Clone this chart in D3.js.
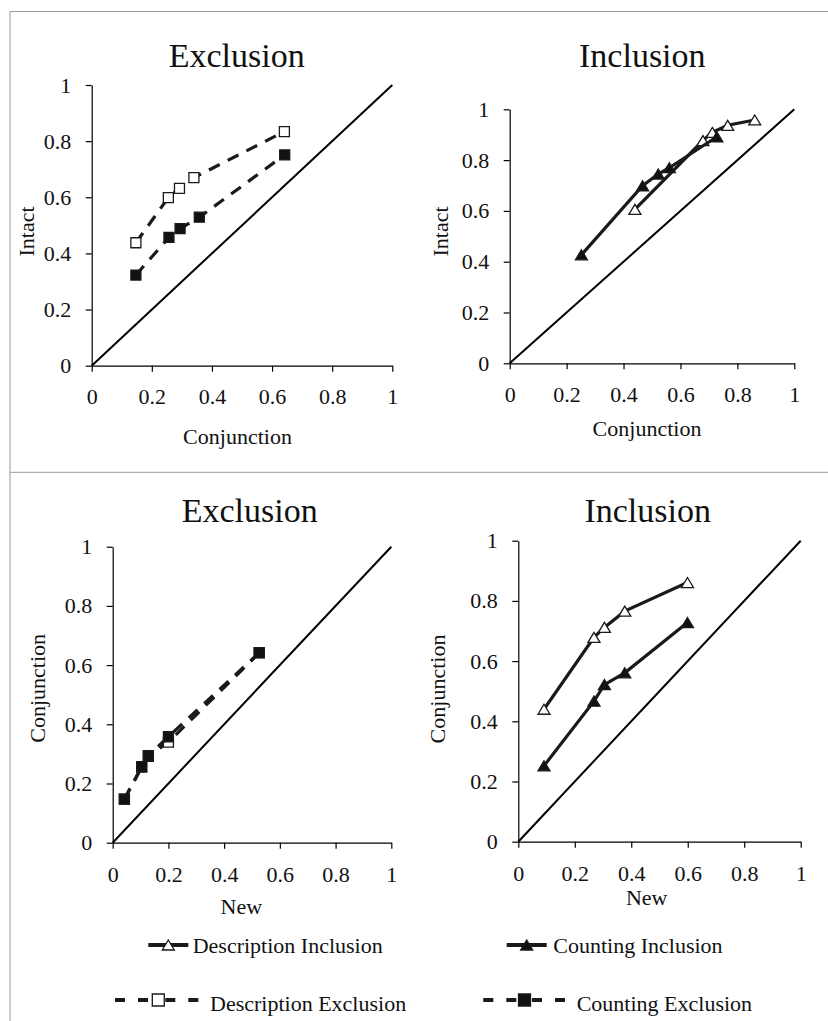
<!DOCTYPE html>
<html><head><meta charset="utf-8">
<script src="https://cdnjs.cloudflare.com/ajax/libs/d3/7.8.5/d3.min.js"></script>
<style>
body{margin:0;background:#fff;}
svg{display:block;}
text{font-family:"Liberation Serif","Times New Roman",serif;fill:#111;}
</style></head><body>
<svg id="chart" width="828" height="1021"></svg>
<script>
// ---------------- data ----------------
const tickValues = [0, 0.2, 0.4, 0.6, 0.8, 1];
const diagonal = [0, 1];
const seriesNames = ["Description Inclusion", "Counting Inclusion", "Description Exclusion", "Counting Exclusion"];

const descIncNew    = [0.091, 0.268, 0.305, 0.377, 0.599];
const descIncConj   = [0.440, 0.679, 0.712, 0.766, 0.861];
const descIncIntact = [0.606, 0.877, 0.909, 0.937, 0.958];

const cntIncNew     = [0.091, 0.268, 0.305, 0.377, 0.599];
const cntIncConj    = [0.252, 0.467, 0.522, 0.561, 0.728];
const cntIncIntact  = [0.427, 0.699, 0.745, 0.770, 0.892];

const descExcNew    = [0.042, 0.104, 0.128, 0.200, 0.526];
const descExcConj   = [0.147, 0.255, 0.292, 0.340, 0.641];
const descExcIntact = [0.438, 0.599, 0.632, 0.670, 0.834];

const cntExcNew     = [0.042, 0.104, 0.128, 0.200, 0.526];
const cntExcConj    = [0.147, 0.257, 0.294, 0.358, 0.642];
const cntExcIntact  = [0.323, 0.457, 0.488, 0.529, 0.751];

// ---------------- styles ----------------
const styles = {
  "Description Inclusion": {dash: null, marker: "triangle", fill: "#fff"},
  "Counting Inclusion":    {dash: null, marker: "triangle", fill: "#111"},
  "Description Exclusion": {dash: "12,9", marker: "square", fill: "#fff"},
  "Counting Exclusion":    {dash: "12,9", marker: "square", fill: "#111"}
};
const ink = "#1a1a1a";
const font = '"Liberation Serif","Times New Roman",serif';

// ---------------- layout ----------------
const panels = [
  {title: "Exclusion", xLabel: "Conjunction", yLabel: "Intact",
   box: {l: 91.7, r: 392.3, t: 85, b: 365.7},
   titlePos: [236.7, 66.7], xLabPos: [237.5, 444], yLabPos: [33.5, 231.5], xPad: 17,
   series: [["Description Exclusion", descExcConj, descExcIntact], ["Counting Exclusion", cntExcConj, cntExcIntact]]},
  {title: "Inclusion", xLabel: "Conjunction", yLabel: "Intact",
   box: {l: 509.7, r: 794.3, t: 109.3, b: 363.3},
   titlePos: [642.3, 66.7], xLabPos: [647, 436], yLabPos: [448, 231.5], xPad: 17,
   series: [["Description Inclusion", descIncConj, descIncIntact], ["Counting Inclusion", cntIncConj, cntIncIntact]]},
  {title: "Exclusion", xLabel: "New", yLabel: "Conjunction",
   box: {l: 112.7, r: 391.3, t: 546.7, b: 842.7},
   titlePos: [249.7, 521.7], xLabPos: [241.3, 914], yLabPos: [45, 688.3], xPad: 18,
   series: [["Description Exclusion", descExcNew, descExcConj], ["Counting Exclusion", cntExcNew, cntExcConj]]},
  {title: "Inclusion", xLabel: "New", yLabel: "Conjunction",
   box: {l: 518.3, r: 800.7, t: 540.7, b: 841.7},
   titlePos: [647.7, 521.7], xLabPos: [646.7, 905], yLabPos: [445, 689], xPad: 18,
   series: [["Description Inclusion", descIncNew, descIncConj], ["Counting Inclusion", cntIncNew, cntIncConj]]}
];

const legendLayout = [
  {x1: 148.3, x2: 188.3, mx: 168.3, tx: 192.7, y: 945, ty: 953.3},
  {x1: 506.7, x2: 546.7, mx: 526.7, tx: 553.3, y: 945, ty: 953.3},
  {x1: 115,   x2: 198.3, mx: 158.3, tx: 210,   y: 1000, ty: 1010.5},
  {x1: 483.3, x2: 565,   mx: 524.5, tx: 576.7, y: 1000, ty: 1010.5}
];

const svg = d3.select("#chart");

// frame lines
const frame = svg.append("g").attr("stroke", "#999").attr("stroke-width", 1).attr("fill", "none");
frame.append("line").attr("x1", 10).attr("x2", 828).attr("y1", 11.5).attr("y2", 11.5);
frame.append("line").attr("x1", 10).attr("x2", 10).attr("y1", 11.5).attr("y2", 1021);
frame.append("line").attr("x1", 10).attr("x2", 828).attr("y1", 472.3).attr("y2", 472.3);

function markerPath(type, size) {
  if (type === "square") {
    const h = size / 2;
    return `M${-h},${-h}H${h}V${h}H${-h}Z`;
  }
  const w = size * 1.2, h = size;
  return `M0,${-h / 2}L${w / 2},${h / 2}L${-w / 2},${h / 2}Z`;
}

const fmt = d3.format("~g");

panels.forEach(p => {
  const x = d3.scaleLinear().domain([0, 1]).range([p.box.l, p.box.r]);
  const y = d3.scaleLinear().domain([0, 1]).range([p.box.b, p.box.t]);
  const g = svg.append("g");

  // axes
  const ax = g.append("g").attr("transform", `translate(0,${p.box.b})`)
    .call(d3.axisBottom(x).tickValues(tickValues).tickSize(6).tickSizeOuter(0).tickPadding(p.xPad).tickFormat(fmt));
  const ay = g.append("g").attr("transform", `translate(${p.box.l},0)`)
    .call(d3.axisLeft(y).tickValues(tickValues).tickSize(6).tickSizeOuter(0).tickPadding(14.5).tickFormat(fmt));
  [ax, ay].forEach(a => {
    a.attr("font-family", font).attr("font-size", 22);
    a.selectAll("path,line").attr("stroke", "#000").attr("stroke-width", 1.2);
    a.selectAll("text").attr("fill", "#111");
  });

  // diagonal
  g.append("line")
    .attr("x1", x(diagonal[0])).attr("y1", y(diagonal[0]))
    .attr("x2", x(diagonal[1])).attr("y2", y(diagonal[1]))
    .attr("stroke", "#000").attr("stroke-width", 2);

  // series
  p.series.forEach(([name, xs, ys]) => {
    const st = styles[name];
    const pts = xs.map((v, i) => [v, ys[i]]);
    const line = d3.line().x(d => x(d[0])).y(d => y(d[1]));
    g.append("path").attr("d", line(pts)).attr("fill", "none")
      .attr("stroke", ink).attr("stroke-width", 3.2)
      .attr("stroke-dasharray", st.dash);
    g.selectAll(null).data(pts).enter().append("path")
      .attr("d", markerPath(st.marker, st.marker === "square" ? 10 : 10))
      .attr("transform", d => `translate(${x(d[0])},${y(d[1])})`)
      .attr("fill", st.fill).attr("stroke", ink).attr("stroke-width", 1.3);
  });

  // titles
  g.append("text").attr("x", p.titlePos[0]).attr("y", p.titlePos[1])
    .attr("text-anchor", "middle").attr("font-size", 34).text(p.title);
  g.append("text").attr("x", p.xLabPos[0]).attr("y", p.xLabPos[1])
    .attr("text-anchor", "middle").attr("font-size", 22).text(p.xLabel);
  g.append("text").attr("transform", `translate(${p.yLabPos[0]},${p.yLabPos[1]}) rotate(-90)`)
    .attr("text-anchor", "middle").attr("font-size", 22).text(p.yLabel);
});

// legend
const lg = svg.append("g");
seriesNames.forEach((name, i) => {
  const L = legendLayout[i];
  const st = styles[name];
  if (st.dash) {
    lg.append("line").attr("x1", L.x1).attr("x2", L.mx).attr("y1", L.y).attr("y2", L.y)
      .attr("stroke", ink).attr("stroke-width", 4).attr("stroke-dasharray", "10,13");
    lg.append("line").attr("x1", L.x2).attr("x2", L.mx).attr("y1", L.y).attr("y2", L.y)
      .attr("stroke", ink).attr("stroke-width", 4).attr("stroke-dasharray", "10,13");
  } else {
    lg.append("line").attr("x1", L.x1).attr("x2", L.x2).attr("y1", L.y).attr("y2", L.y)
      .attr("stroke", ink).attr("stroke-width", 4);
  }
  lg.append("path").attr("d", markerPath(st.marker, st.marker === "square" ? 12 : 10))
    .attr("transform", `translate(${L.mx},${L.y})`)
    .attr("fill", st.fill).attr("stroke", ink).attr("stroke-width", 1.3);
  lg.append("text").attr("x", L.tx).attr("y", L.ty).attr("font-size", 22).text(name);
});
</script>
</body></html>
